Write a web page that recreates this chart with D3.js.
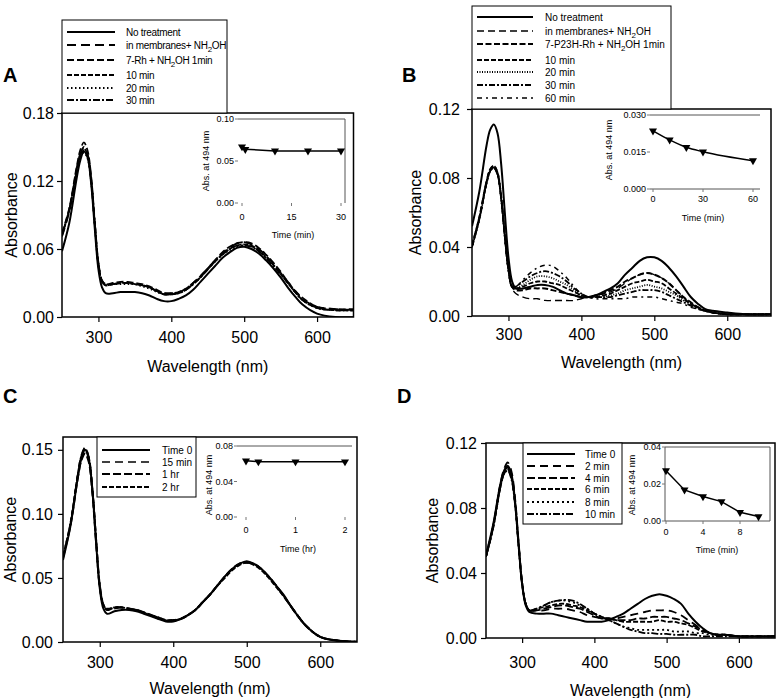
<!DOCTYPE html>
<html><head><meta charset="utf-8">
<script src="https://cdn.jsdelivr.net/npm/d3@7"></script>
<style>body{margin:0;background:#fff}svg{display:block}</style>
</head><body><svg id="c" width="780" height="698"></svg>
<script>
const FONT = '"Liberation Sans", Arial, Helvetica, sans-serif';
// wavelength grid (nm)
const wavelengths = [250,260,270,275,280,285,290,295,300,305,
  310,320,330,340,350,360,370,380,390,400,
  410,420,430,440,450,460,470,480,490,500,
  510,520,530,540,550,560,570,580,
  600,625,660];

// Panel A
const labelsA = ["No treatment","in membranes+ NH2OH","7-Rh + NH2OH 1min","10 min","20 min","30 min"];
const A_noTreatment = [.058,.083,.122,.138,.146,.141,.118,.078,.042,.026, .021,.021,.022,.022,.022,.021,.019,.016,.014,.014, .016,.019,.024,.031,.038,.045,.052,.057,.061,.062, .060,.056,.050,.043,.035,.026,.018,.011, .003,.000,.000];
const A_membranes = [.071,.093,.128,.143,.150,.144,.122,.083,.047,.032, .029,.029,.030,.030,.030,.028,.026,.023,.021,.021, .022,.025,.030,.036,.043,.050,.056,.061,.065,.066, .064,.060,.054,.047,.039,.031,.023,.016, .009,.007,.006];
const A_1min = [.074,.096,.132,.147,.154,.147,.124,.084,.048,.032, .029,.030,.031,.031,.030,.029,.027,.024,.021,.021, .022,.025,.030,.036,.043,.050,.057,.062,.065,.066, .065,.061,.055,.048,.040,.031,.023,.017, .009,.007,.007];
const A_10min = [.072,.094,.129,.142,.147,.142,.120,.082,.046,.031, .028,.029,.030,.030,.029,.028,.026,.023,.020,.020, .021,.024,.029,.035,.042,.049,.055,.060,.063,.064, .063,.059,.053,.046,.038,.030,.022,.015, .008,.006,.006];
const A_20min = [.073,.094,.128,.141,.145,.140,.119,.081,.046,.031, .028,.029,.029,.029,.029,.027,.025,.022,.020,.020, .021,.024,.029,.035,.042,.049,.055,.059,.062,.063, .062,.058,.052,.045,.038,.030,.022,.015, .008,.006,.006];
const A_30min = [.073,.095,.130,.144,.149,.143,.121,.082,.046,.031, .028,.029,.030,.030,.029,.028,.026,.023,.020,.020, .021,.024,.029,.035,.042,.049,.055,.060,.063,.063, .062,.058,.052,.045,.038,.030,.022,.015, .008,.006,.006];
const insetA_time = [0,1,10,20,30];
const insetA_abs = [0.067,0.064,0.062,0.062,0.062];

// Panel B
const labelsB = ["No treatment","in membranes+ NH2OH","7-P23H-Rh + NH2OH 1min","10 min","20 min","30 min","60 min"];
const B_noTreatment = [.052,.072,.099,.108,.111,.106,.088,.060,.034,.020, .016,.016,.017,.018,.018,.017,.015,.013,.012,.011, .011,.012,.014,.016,.019,.024,.028,.032,.034,.034, .032,.028,.023,.017,.011,.007,.004,.003, .002,.001,.001];
const B_membranes = [.040,.056,.077,.084,.086,.082,.068,.046,.026,.016, .013,.011,.010,.010,.009,.009,.009,.009,.009,.010, .011,.012,.013,.014,.016,.019,.022,.024,.025,.024, .022,.019,.015,.011,.007,.005,.003,.002, .001,.001,.001];
const B_1min = [.041,.057,.078,.085,.087,.083,.069,.047,.027,.017, .015,.015,.016,.016,.016,.015,.014,.013,.012,.011, .011,.012,.013,.015,.017,.020,.022,.024,.025,.024, .022,.019,.015,.011,.008,.005,.003,.002, .001,.001,.001];
const B_10min = [.041,.057,.078,.085,.087,.083,.069,.047,.027,.017, .016,.017,.019,.020,.020,.019,.018,.016,.014,.012, .011,.011,.012,.013,.015,.017,.019,.020,.021,.020, .019,.016,.013,.010,.007,.005,.003,.002, .001,.001,.001];
const B_20min = [.040,.056,.077,.084,.086,.082,.068,.046,.027,.017, .016,.018,.021,.023,.023,.022,.020,.018,.015,.012, .011,.011,.011,.012,.013,.015,.016,.017,.018,.017, .016,.014,.012,.009,.007,.005,.003,.002, .001,.001,.001];
const B_30min = [.040,.056,.077,.084,.086,.082,.068,.046,.027,.017, .017,.020,.023,.025,.026,.025,.023,.020,.016,.013, .011,.011,.011,.011,.012,.013,.014,.015,.015,.015, .014,.012,.010,.008,.006,.004,.003,.002, .001,.001,.001];
const B_60min = [.040,.056,.077,.084,.086,.082,.068,.046,.027,.017, .017,.021,.025,.028,.0295,.029,.026,.022,.017,.013, .011,.010,.010,.010,.010,.010,.011,.011,.011,.011, .010,.009,.008,.007,.005,.004,.003,.002, .001,.001,.001];
const insetB_time = [0,10,20,30,60];
const insetB_abs = [0.0236,0.0199,0.0169,0.0151,0.0115];

// Panel C
const labelsC = ["Time 0","15 min","1 hr","2 hr"];
const C_time0 = [.064,.090,.128,.143,.150,.143,.118,.078,.042,.026, .022,.024,.025,.025,.024,.022,.020,.018,.016,.016, .018,.021,.025,.031,.037,.044,.051,.057,.061,.063, .061,.057,.051,.044,.037,.028,.020,.013, .004,.001,.000];
const C_15min = [.066,.092,.131,.146,.152,.145,.120,.080,.044,.029, .025,.026,.027,.026,.025,.023,.021,.018,.017,.017, .018,.021,.025,.031,.037,.044,.051,.057,.061,.062, .061,.057,.051,.044,.036,.028,.020,.013, .004,.001,.000];
const C_1hr = [.066,.091,.128,.142,.147,.141,.117,.079,.044,.029, .025,.027,.027,.026,.025,.023,.021,.019,.017,.017, .018,.021,.025,.031,.037,.044,.051,.057,.061,.062, .061,.057,.051,.044,.036,.028,.020,.013, .004,.001,.000];
const C_2hr = [.067,.092,.130,.145,.151,.144,.119,.080,.044,.029, .026,.027,.027,.026,.025,.023,.021,.019,.017,.017, .018,.021,.025,.031,.037,.044,.050,.056,.060,.062, .060,.056,.050,.043,.036,.028,.020,.013, .004,.001,.000];
const insetC_time = [0,0.25,1,2];
const insetC_abs = [0.0634,0.0623,0.0623,0.0623];

// Panel D
const labelsD = ["Time 0","2 min","4 min","6 min","8 min","10 min"];
const D_time0 = [.051,.070,.095,.103,.106,.101,.085,.058,.033,.020, .016,.015,.015,.015,.014,.013,.012,.011,.010,.010, .010,.011,.013,.015,.018,.021,.024,.026,.027,.026, .024,.021,.015,.010,.006,.003,.002,.002, .001,.001,.001];
const D_2min = [.050,.069,.095,.104,.108,.103,.087,.060,.034,.021, .017,.017,.017,.018,.018,.018,.017,.016,.014,.013, .012,.012,.012,.013,.014,.015,.016,.017,.017,.017, .016,.014,.011,.008,.005,.003,.002,.002, .001,.001,.001];
const D_4min = [.050,.069,.094,.102,.105,.100,.085,.058,.034,.021, .017,.017,.018,.019,.020,.020,.019,.018,.016,.014, .012,.012,.011,.011,.011,.012,.012,.013,.013,.013, .012,.011,.009,.007,.005,.003,.002,.002, .001,.001,.001];
const D_6min = [.050,.068,.093,.101,.104,.099,.084,.058,.034,.021, .017,.018,.019,.020,.021,.021,.020,.019,.017,.015, .013,.012,.011,.010,.010,.010,.010,.010,.011,.010, .010,.009,.008,.006,.004,.003,.002,.002, .001,.001,.001];
const D_8min = [.051,.069,.094,.102,.104,.099,.084,.058,.034,.021, .017,.018,.020,.022,.023,.023,.022,.020,.018,.015, .013,.011,.009,.007,.006,.005,.005,.005,.005,.005, .004,.004,.004,.003,.003,.002,.002,.002, .001,.001,.001];
const D_10min = [.050,.068,.093,.101,.103,.098,.083,.057,.033,.021, .017,.018,.020,.022,.023,.0235,.023,.021,.018,.015, .013,.011,.009,.007,.005,.004,.003,.003,.0025,.0025, .002,.002,.002,.002,.001,.001,.001,.001, .001,.001,.001];
const insetD_time = [0,2,4,6,8,10];
const insetD_abs = [0.0272,0.0168,0.0132,0.0105,0.0047,0.0024];

const xTicksMain = [300,400,500,600];

const svg = d3.select("#c");

function addLabel(t, label) {
  const parts = label.split("NH2OH");
  parts.forEach((p, i) => {
    if (p) t.append("tspan").text(p);
    if (i < parts.length - 1) {
      t.append("tspan").text("NH");
      t.append("tspan").attr("dy", 3).attr("font-size", "0.8em").text("2");
      t.append("tspan").attr("dy", -3).text("OH");
    }
  });
}

function drawInset(ins) {
  const g = svg.append("g").attr("font-family", FONT);
  const x = d3.scaleLinear().domain(ins.xDomain).range(ins.xRange);
  const y = d3.scaleLinear().domain(ins.yDomain).range(ins.yRange);
  const [bx0, bx1] = ins.box;
  const yt = y(ins.yDomain[1]), yb = y(ins.yDomain[0]);
  const fc = "#555";
  if (ins.sides.includes("top")) g.append("line").attr("x1", bx0).attr("x2", bx1).attr("y1", yt).attr("y2", yt).attr("stroke", fc);
  if (ins.sides.includes("bottom")) g.append("line").attr("x1", bx0).attr("x2", bx1).attr("y1", yb).attr("y2", yb).attr("stroke", fc);
  if (ins.sides.includes("right")) g.append("line").attr("x1", bx1).attr("x2", bx1).attr("y1", yt).attr("y2", yb).attr("stroke", fc);
  if (ins.sides.includes("left")) g.append("line").attr("x1", bx0).attr("x2", bx0).attr("y1", yt).attr("y2", yb).attr("stroke", fc);
  ins.yTicks.forEach(v => {
    g.append("line").attr("x1", bx0 - 3).attr("x2", bx0).attr("y1", y(v)).attr("y2", y(v)).attr("stroke", "#777");
    g.append("text").attr("x", bx0 - 4).attr("y", y(v)).attr("dy", "0.35em").attr("text-anchor", "end")
      .attr("font-size", 9).text(d3.format(ins.yFmt)(v));
  });
  ins.xTicks.forEach(v => {
    g.append("line").attr("x1", x(v)).attr("x2", x(v)).attr("y1", yb).attr("y2", yb + 3).attr("stroke", "#777");
    g.append("text").attr("x", x(v)).attr("y", ins.xLabelY).attr("dy", "0.35em").attr("text-anchor", "middle")
      .attr("font-size", 9).text(v);
  });
  const pts = ins.time.map((t, i) => [t, ins.abs[i]]);
  const ln = d3.line().x(d => x(d[0])).y(d => y(d[1])).curve(ins.smooth ? d3.curveMonotoneX : d3.curveLinear);
  g.append("path").datum(pts).attr("d", ln).attr("fill", "none").attr("stroke", "#000").attr("stroke-width", 1.5);
  const sym = d3.symbol().type(d3.symbolTriangle).size(28);
  g.selectAll(".m").data(pts).join("path").attr("d", sym)
    .attr("transform", d => `translate(${x(d[0])},${y(d[1])}) rotate(180)`).attr("fill", "#000");
  g.append("text").attr("x", ins.xTitle[0]).attr("y", ins.xTitle[1]).attr("dy", "0.35em").attr("text-anchor", "middle")
    .attr("font-size", 9).text(ins.xTitleText);
  g.append("text").attr("transform", `translate(${ins.yTitle[0] + 3.5},${ins.yTitle[1]}) rotate(-90)`)
    .attr("text-anchor", "middle").attr("font-size", 9).text("Abs. at 494 nm");
}

function drawPanel(p) {
  const g = svg.append("g").attr("font-family", FONT);
  const x = d3.scaleLinear().domain(p.xDomain).range([p.L, p.R]);
  const y = d3.scaleLinear().domain(p.yDomain).range([p.B, p.T]);
  const clipId = "clip" + p.letter;
  svg.append("clipPath").attr("id", clipId).append("rect")
    .attr("x", p.L).attr("y", p.T).attr("width", p.R - p.L).attr("height", p.B - p.T);
  const line = d3.line().x(d => x(d[0])).y(d => y(d[1])).curve(d3.curveCatmullRom.alpha(0.5));
  const lg = g.append("g").attr("clip-path", `url(#${clipId})`);
  p.series.slice().reverse().forEach(s => {
    lg.append("path").datum(wavelengths.map((w, j) => [w, s.values[j]]))
      .attr("d", line).attr("fill", "none").attr("stroke", "#000")
      .attr("stroke-width", s.width || 1.8).attr("stroke-dasharray", s.dash || null);
  });
  // frame
  g.append("rect").attr("x", p.L).attr("y", p.T).attr("width", p.R - p.L).attr("height", p.B - p.T)
    .attr("fill", "none").attr("stroke", "#000").attr("stroke-width", 1.5);
  const yAxis = d3.axisLeft(y).tickValues(p.yTicks).tickSize(5).tickPadding(p.yPad).tickFormat(d3.format(".2f"));
  g.append("g").attr("transform", `translate(${p.L},0)`).call(yAxis).call(a => {
    a.select(".domain").remove();
    a.selectAll("text").attr("font-size", 16).attr("font-family", FONT).attr("fill", "#000");
    a.selectAll("line").attr("stroke", "#000").attr("stroke-width", 1.2);
  });
  const xAxis = d3.axisBottom(x).tickValues(xTicksMain).tickSize(5).tickPadding(p.xPad).tickFormat(d3.format("d"));
  g.append("g").attr("transform", `translate(0,${p.B})`).call(xAxis).call(a => {
    a.select(".domain").remove();
    a.selectAll("text").attr("font-size", 16).attr("font-family", FONT).attr("fill", "#000");
    a.selectAll("line").attr("stroke", "#000").attr("stroke-width", 1.2);
  });
  g.append("text").attr("x", (p.L + p.R) / 2).attr("y", p.xTitleY).attr("dy", "0.35em")
    .attr("text-anchor", "middle").attr("font-size", 16).text("Wavelength (nm)");
  g.append("text").attr("transform", `translate(${p.yTitleX + 6},${(p.T + p.B) / 2}) rotate(-90)`)
    .attr("text-anchor", "middle").attr("font-size", 16).text("Absorbance");
  g.append("text").attr("x", p.letterPos[0]).attr("y", p.letterPos[1]).attr("font-size", 20)
    .attr("font-weight", "bold").text(p.letter);
  // legend
  const L = p.legend;
  const leg = g.append("g");
  leg.append("rect").attr("x", L.x0).attr("y", L.y0).attr("width", L.x1 - L.x0).attr("height", L.y1 - L.y0)
    .attr("fill", "#fff").attr("stroke", "#000").attr("stroke-width", 1);
  p.series.forEach((s, i) => {
    const yy = L.rows[i];
    leg.append("line").attr("x1", L.s0).attr("x2", L.s1).attr("y1", yy).attr("y2", yy)
      .attr("stroke", "#000").attr("stroke-width", s.width || 1.8).attr("stroke-dasharray", s.dash || null);
    const t = leg.append("text").attr("x", L.tx).attr("y", yy).attr("dy", "0.35em").attr("font-size", L.fs)
      .attr("letter-spacing", L.ls || 0);
    addLabel(t, s.label);
  });
  drawInset(p.inset);
}

drawPanel({
  letter: "A", letterPos: [3, 82], L: 62, R: 353.5, T: 113, B: 317,
  xDomain: [250, 650], yDomain: [0, 0.18], yTicks: [0, 0.06, 0.12, 0.18], yPad: 3, xPad: 10,
  xTitleY: 366, yTitleX: 11,
  series: [
    {label: labelsA[0], values: A_noTreatment, dash: null, width: 2},
    {label: labelsA[1], values: A_membranes, dash: "9,5"},
    {label: labelsA[2], values: A_1min, dash: "7,3"},
    {label: labelsA[3], values: A_10min, dash: "5,2"},
    {label: labelsA[4], values: A_20min, dash: "1.5,2.5"},
    {label: labelsA[5], values: A_30min, dash: "7,2,2,2"}
  ],
  legend: {x0: 62, x1: 227, y0: 20, y1: 113, s0: 67, s1: 115, tx: 126, fs: 10, ls: -0.3,
    rows: [32, 45, 60, 75, 88, 100]},
  inset: {xDomain: [0, 30], xRange: [242, 341], yDomain: [0, 0.10], yRange: [203, 119],
    box: [238, 345], sides: ["top", "right"], xTicks: [0, 15, 30], yTicks: [0, 0.05, 0.10], yFmt: ".2f",
    xLabelY: 217, xTitle: [293, 235], xTitleText: "Time (min)", yTitle: [205, 161],
    time: insetA_time, abs: insetA_abs, smooth: false}
});

drawPanel({
  letter: "B", letterPos: [402, 82], L: 472, R: 771, T: 109, B: 316,
  xDomain: [250, 660], yDomain: [0, 0.12], yTicks: [0, 0.04, 0.08, 0.12], yPad: 7, xPad: 8,
  xTitleY: 362, yTitleX: 415,
  series: [
    {label: labelsB[0], values: B_noTreatment, dash: null, width: 2},
    {label: labelsB[1], values: B_membranes, dash: "7,4", width: 1.3},
    {label: labelsB[2], values: B_1min, dash: "6,2.5", width: 2},
    {label: labelsB[3], values: B_10min, dash: "5,2"},
    {label: labelsB[4], values: B_20min, dash: "1,1.5"},
    {label: labelsB[5], values: B_30min, dash: "6,2,2,2"},
    {label: labelsB[6], values: B_60min, dash: "5,4,2,4", width: 1.5}
  ],
  legend: {x0: 472, x1: 671, y0: 6, y1: 109, s0: 477, s1: 533, tx: 545, fs: 10,
    rows: [17, 31, 44, 60, 72, 85, 98]},
  inset: {xDomain: [0, 60], xRange: [653, 753], yDomain: [0, 0.030], yRange: [189, 115],
    box: [650, 760], sides: ["top", "bottom"], xTicks: [0, 30, 60], yTicks: [0, 0.015, 0.030], yFmt: ".3f",
    xLabelY: 199, xTitle: [703, 218], xTitleText: "Time (min)", yTitle: [608, 150],
    time: insetB_time, abs: insetB_abs, smooth: true}
});

drawPanel({
  letter: "C", letterPos: [3, 403], L: 63, R: 357, T: 437, B: 642,
  xDomain: [250, 650], yDomain: [0, 0.16], yTicks: [0, 0.05, 0.10, 0.15], yPad: 5, xPad: 10,
  xTitleY: 688, yTitleX: 10,
  series: [
    {label: labelsC[0], values: C_time0, dash: null, width: 2},
    {label: labelsC[1], values: C_15min, dash: "8,5", width: 1.5},
    {label: labelsC[2], values: C_1hr, dash: "8,3", width: 2.2},
    {label: labelsC[3], values: C_2hr, dash: "5,2", width: 2}
  ],
  legend: {x0: 97, x1: 196, y0: 437, y1: 497, s0: 102, s1: 150, tx: 162, fs: 10,
    rows: [450, 462, 474, 487]},
  inset: {xDomain: [0, 2], xRange: [246, 345], yDomain: [0, 0.08], yRange: [517, 446],
    box: [237, 352], sides: ["top"], xTicks: [0, 1, 2], yTicks: [0, 0.04, 0.08], yFmt: ".2f",
    xLabelY: 530, xTitle: [298, 549], xTitleText: "Time (hr)", yTitle: [208, 485],
    time: insetC_time, abs: insetC_abs, smooth: false}
});

drawPanel({
  letter: "D", letterPos: [397, 403], L: 486, R: 775, T: 443, B: 638,
  xDomain: [250, 650], yDomain: [0, 0.12], yTicks: [0, 0.04, 0.08, 0.12], yPad: 4, xPad: 14,
  xTitleY: 690, yTitleX: 432,
  series: [
    {label: labelsD[0], values: D_time0, dash: null, width: 2},
    {label: labelsD[1], values: D_2min, dash: "8,5", width: 1.8},
    {label: labelsD[2], values: D_4min, dash: "8,3", width: 1.8},
    {label: labelsD[3], values: D_6min, dash: "5,2"},
    {label: labelsD[4], values: D_8min, dash: "2,3"},
    {label: labelsD[5], values: D_10min, dash: "7,2,2,2"}
  ],
  legend: {x0: 523, x1: 622, y0: 443, y1: 524, s0: 527, s1: 575, tx: 585, fs: 10,
    rows: [454, 466, 478, 489, 502, 514]},
  inset: {xDomain: [0, 10], xRange: [666, 758.5], yDomain: [0, 0.04], yRange: [521, 447],
    box: [665, 770], sides: ["top", "right", "bottom", "left"], xTicks: [0, 4, 8], yTicks: [0, 0.02, 0.04], yFmt: ".2f",
    xLabelY: 532, xTitle: [717, 550], xTitleText: "Time (min)", yTitle: [631, 485],
    time: insetD_time, abs: insetD_abs, smooth: false}
});
</script>
</body></html>
